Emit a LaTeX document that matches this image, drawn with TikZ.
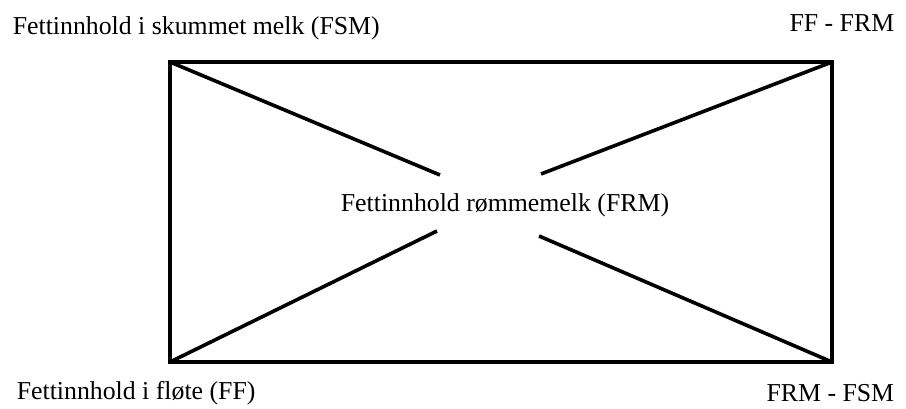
\documentclass[tikz,border=0pt]{standalone}
\usepackage{fontspec}
\setmainfont{Liberation Serif}
\begin{document}
\begin{tikzpicture}[x=1pt,y=-1pt,line width=3.6pt,
  every node/.style={inner sep=0pt,font=\fontsize{25.8}{30}\selectfont}]
  \useasboundingbox (0,0) rectangle (906,408);
  % corners of the box
  \coordinate (TL) at (170,62);
  \coordinate (TR) at (832,62);
  \coordinate (BL) at (170,362);
  \coordinate (BR) at (832,362);
  \draw (TL) rectangle (BR);
  % text
  \node[anchor=west] (FSM) at (11,28) {Fettinnhold i skummet melk (FSM)};
  \node[anchor=east] (FFFRM) at (896,23) {FF - FRM};
  \node (FRM) at (505,205) {Fettinnhold rømmemelk (FRM)};
  \node[anchor=west] (FF) at (15,393) {Fettinnhold i fløte (FF)};
  \node[anchor=east] (FRMFSM) at (896,393) {FRM - FSM};
  % lines towards the middle
  \coordinate (a) at (440,175);
  \coordinate (b) at (541,174);
  \coordinate (c) at (437,231);
  \coordinate (d) at (539,236);
  \draw (TL) -- (a);
  \draw (TR) -- (b);
  \draw (BL) -- (c);
  \draw (BR) -- (d);
\end{tikzpicture}
\end{document}
